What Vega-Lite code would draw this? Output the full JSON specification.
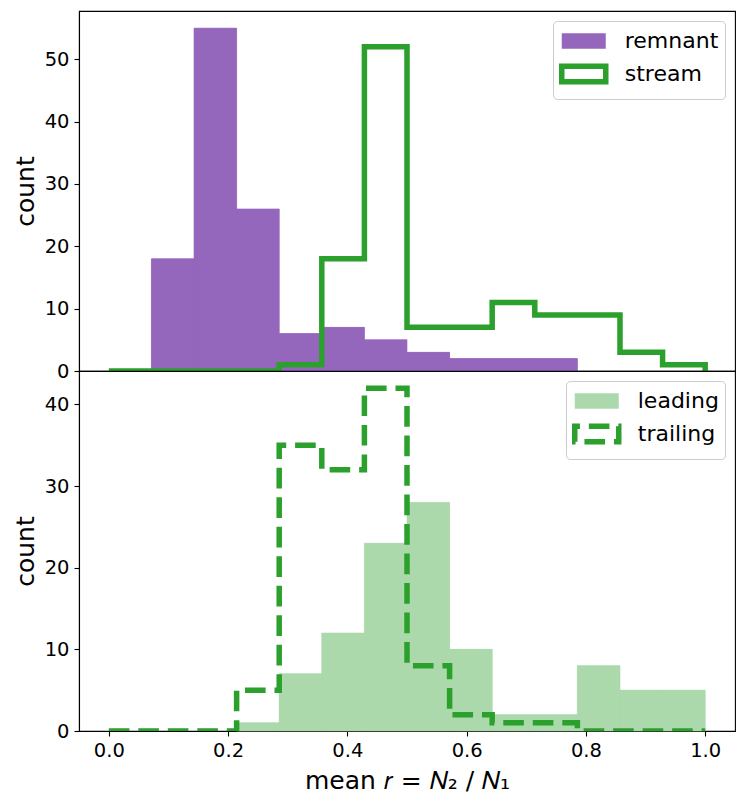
{
  "$schema": "https://vega.github.io/schema/vega-lite/v6.json",
  "padding": {"left": 12, "top": 10, "right": 5, "bottom": 0},
  "spacing": 0,
  "bounds": "flush",
  "datasets": {
    "remnant": [
      {"series": "remnant", "lo": 0.0714286, "hi": 0.1428571, "count": 18},
      {"series": "remnant", "lo": 0.1428571, "hi": 0.2142857, "count": 55},
      {"series": "remnant", "lo": 0.2142857, "hi": 0.2857143, "count": 26},
      {"series": "remnant", "lo": 0.2857143, "hi": 0.3571429, "count": 6},
      {"series": "remnant", "lo": 0.3571429, "hi": 0.4285714, "count": 7},
      {"series": "remnant", "lo": 0.4285714, "hi": 0.5, "count": 5},
      {"series": "remnant", "lo": 0.5, "hi": 0.5714286, "count": 3},
      {"series": "remnant", "lo": 0.5714286, "hi": 0.6428571, "count": 2},
      {"series": "remnant", "lo": 0.6428571, "hi": 0.7142857, "count": 2},
      {"series": "remnant", "lo": 0.7142857, "hi": 0.7857143, "count": 2}
    ],
    "stream": [
      {"series": "stream", "edge": 0, "count": 0},
      {"series": "stream", "edge": 0.0714286, "count": 0},
      {"series": "stream", "edge": 0.1428571, "count": 0},
      {"series": "stream", "edge": 0.2142857, "count": 0},
      {"series": "stream", "edge": 0.2857143, "count": 1},
      {"series": "stream", "edge": 0.3571429, "count": 18},
      {"series": "stream", "edge": 0.4285714, "count": 52},
      {"series": "stream", "edge": 0.5, "count": 7},
      {"series": "stream", "edge": 0.5714286, "count": 7},
      {"series": "stream", "edge": 0.6428571, "count": 11},
      {"series": "stream", "edge": 0.7142857, "count": 9},
      {"series": "stream", "edge": 0.7857143, "count": 9},
      {"series": "stream", "edge": 0.8571429, "count": 3},
      {"series": "stream", "edge": 0.9285714, "count": 1},
      {"series": "stream", "edge": 1.0, "count": 0}
    ],
    "leading": [
      {"series": "leading", "lo": 0.2142857, "hi": 0.2857143, "count": 1},
      {"series": "leading", "lo": 0.2857143, "hi": 0.3571429, "count": 7},
      {"series": "leading", "lo": 0.3571429, "hi": 0.4285714, "count": 12},
      {"series": "leading", "lo": 0.4285714, "hi": 0.5, "count": 23},
      {"series": "leading", "lo": 0.5, "hi": 0.5714286, "count": 28},
      {"series": "leading", "lo": 0.5714286, "hi": 0.6428571, "count": 10},
      {"series": "leading", "lo": 0.6428571, "hi": 0.7142857, "count": 2},
      {"series": "leading", "lo": 0.7142857, "hi": 0.7857143, "count": 2},
      {"series": "leading", "lo": 0.7857143, "hi": 0.8571429, "count": 8},
      {"series": "leading", "lo": 0.8571429, "hi": 0.9285714, "count": 5},
      {"series": "leading", "lo": 0.9285714, "hi": 1.0, "count": 5}
    ],
    "trailing": [
      {"series": "trailing", "edge": 0, "count": 0},
      {"series": "trailing", "edge": 0.0714286, "count": 0},
      {"series": "trailing", "edge": 0.1428571, "count": 0},
      {"series": "trailing", "edge": 0.2142857, "count": 5},
      {"series": "trailing", "edge": 0.2857143, "count": 35},
      {"series": "trailing", "edge": 0.3571429, "count": 32},
      {"series": "trailing", "edge": 0.4285714, "count": 42},
      {"series": "trailing", "edge": 0.5, "count": 8},
      {"series": "trailing", "edge": 0.5714286, "count": 2},
      {"series": "trailing", "edge": 0.6428571, "count": 1},
      {"series": "trailing", "edge": 0.7142857, "count": 1},
      {"series": "trailing", "edge": 0.7857143, "count": 0},
      {"series": "trailing", "edge": 0.8571429, "count": 0},
      {"series": "trailing", "edge": 0.9285714, "count": 0},
      {"series": "trailing", "edge": 1.0, "count": 0}
    ]
  },
  "config": {
    "font": "DejaVu Sans",
    "view": {"stroke": "black", "strokeWidth": 1.1},
    "axis": {
      "grid": false,
      "labelFont": "DejaVu Sans",
      "labelFontSize": 19.5,
      "labelColor": "black",
      "tickColor": "black",
      "domainColor": "black",
      "tickSize": 5,
      "tickWidth": 1.1,
      "domainWidth": 1.1,
      "labelPadding": 5,
      "titleFont": "DejaVu Sans",
      "titleFontSize": 25,
      "titleFontWeight": "normal",
      "titleColor": "black"
    },
    "legend": {
      "labelFont": "DejaVu Sans",
      "labelFontSize": 22,
      "labelColor": "black",
      "padding": 6,
      "strokeColor": "#cccccc",
      "fillColor": "rgba(255,255,255,0.8)",
      "cornerRadius": 4,
      "offset": 10,
      "rowPadding": -6.5
    }
  },
  "resolve": {
    "scale": {"fill": "independent", "stroke": "independent"},
    "legend": {"fill": "independent", "stroke": "independent"}
  },
  "vconcat": [
    {
      "width": 656,
      "height": 360,
      "layer": [
        {
          "data": {"name": "remnant"},
          "mark": {"type": "rect"},
          "encoding": {
            "x": {"field": "lo", "type": "quantitative", "scale": {"domain": [-0.05, 1.05], "nice": false, "zero": false}, "axis": null},
            "x2": {"field": "hi"},
            "y": {"field": "count", "type": "quantitative", "scale": {"domain": [0, 57.75], "nice": false}, "axis": {"values": [0, 10, 20, 30, 40, 50], "title": "count", "titlePadding": 6}},
            "y2": {"datum": 0},
            "fill": {
              "field": "series", "type": "nominal",
              "scale": {"domain": ["remnant", "stream"], "range": ["#9467bd", "transparent"]},
              "legend": {
                "title": null, "orient": "top-right",
                "symbolType": "M-2,-0.7H2V0.7H-2Z", "symbolSize": 484, "symbolStrokeWidth": 5.5,
                "symbolOffset": 10.75, "labelOffset": 27
              }
            }
          }
        },
        {
          "data": {"name": "remnant"},
          "mark": {"type": "rect", "stroke": "#9467bd", "strokeWidth": 0.6},
          "encoding": {
            "x": {"field": "lo", "type": "quantitative", "scale": {"domain": [-0.05, 1.05], "nice": false, "zero": false}, "axis": null},
            "x2": {"field": "hi"},
            "y": {"field": "count", "type": "quantitative", "scale": {"domain": [0, 57.75], "nice": false}},
            "y2": {"datum": 0},
            "fill": {"field": "series", "type": "nominal", "legend": null}
          }
        },
        {
          "data": {"name": "stream"},
          "mark": {"type": "line", "interpolate": "step-after", "strokeWidth": 5.5, "clip": true, "strokeJoin": "miter", "strokeCap": "butt"},
          "encoding": {
            "x": {"field": "edge", "type": "quantitative", "scale": {"domain": [-0.05, 1.05], "nice": false, "zero": false}, "axis": null},
            "y": {"field": "count", "type": "quantitative", "scale": {"domain": [0, 57.75], "nice": false}},
            "stroke": {
              "field": "series", "type": "nominal",
              "scale": {"domain": ["remnant", "stream"], "range": ["transparent", "#2ca02c"]},
              "legend": {
                "title": null, "orient": "top-right",
                "symbolType": "M-2,-0.7H2V0.7H-2Z", "symbolSize": 484, "symbolStrokeWidth": 5.5,
                "symbolOffset": 10.75, "labelOffset": 27
              }
            }
          }
        }
      ]
    },
    {
      "width": 656,
      "height": 360,
      "layer": [
        {
          "data": {"name": "leading"},
          "mark": {"type": "rect"},
          "encoding": {
            "x": {"field": "lo", "type": "quantitative", "scale": {"domain": [-0.05, 1.05], "nice": false, "zero": false},
                  "axis": {"values": [0, 0.2, 0.4, 0.6, 0.8, 1.0], "format": ".1f", "labelFlush": false, "title": "mean 𝑟 = 𝑁₂ / 𝑁₁", "titlePadding": 9}},
            "x2": {"field": "hi"},
            "y": {"field": "count", "type": "quantitative", "scale": {"domain": [0, 44.1], "nice": false}, "axis": {"values": [0, 10, 20, 30, 40], "title": "count", "titlePadding": 6}},
            "y2": {"datum": 0},
            "fill": {
              "field": "series", "type": "nominal",
              "scale": {"domain": ["leading", "trailing"], "range": ["#abd9ab", "transparent"]},
              "legend": {
                "title": null, "orient": "top-right",
                "symbolType": "M-2,0.7V-0.7H2V0.7Z", "symbolSize": 484, "symbolStrokeWidth": 5.5,
                "symbolOffset": 10.75, "labelOffset": 27, "symbolDash": [20.6, 8.9]
              }
            }
          }
        },
        {
          "data": {"name": "leading"},
          "mark": {"type": "rect", "stroke": "#abd9ab", "strokeWidth": 0.6},
          "encoding": {
            "x": {"field": "lo", "type": "quantitative", "scale": {"domain": [-0.05, 1.05], "nice": false, "zero": false}},
            "x2": {"field": "hi"},
            "y": {"field": "count", "type": "quantitative", "scale": {"domain": [0, 44.1], "nice": false}},
            "y2": {"datum": 0},
            "fill": {"field": "series", "type": "nominal", "legend": null}
          }
        },
        {
          "data": {"name": "trailing"},
          "mark": {"type": "line", "interpolate": "step-after", "strokeWidth": 5.5, "clip": true, "strokeJoin": "miter", "strokeCap": "butt", "strokeDash": [20.6, 8.9]},
          "encoding": {
            "x": {"field": "edge", "type": "quantitative", "scale": {"domain": [-0.05, 1.05], "nice": false, "zero": false}},
            "y": {"field": "count", "type": "quantitative", "scale": {"domain": [0, 44.1], "nice": false}},
            "stroke": {
              "field": "series", "type": "nominal",
              "scale": {"domain": ["leading", "trailing"], "range": ["transparent", "#2ca02c"]},
              "legend": {
                "title": null, "orient": "top-right",
                "symbolType": "M-2,0.7V-0.7H2V0.7Z", "symbolSize": 484, "symbolStrokeWidth": 5.5,
                "symbolOffset": 10.75, "labelOffset": 27, "symbolDash": [20.6, 8.9]
              }
            }
          }
        }
      ]
    }
  ]
}
